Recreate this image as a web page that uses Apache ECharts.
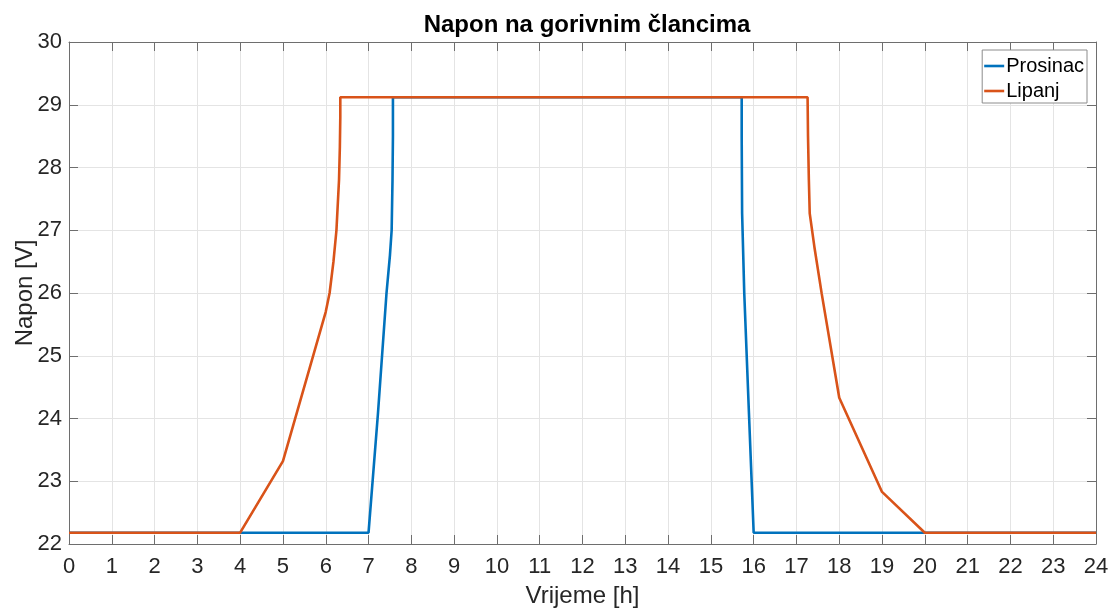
<!DOCTYPE html>
<html>
<head>
<meta charset="utf-8">
<title>Napon na gorivnim člancima</title>
<script src="https://cdn.jsdelivr.net/npm/echarts@6/dist/echarts.min.js"></script>
<style>
  html, body { margin: 0; padding: 0; background: #ffffff; }
  #chart { width: 1111px; height: 610px; }
</style>
</head>
<body>
<div id="chart"></div>
<script>
// Fuel cell voltage over the day, two months
const seriesNames = ['Prosinac', 'Lipanj'];

// Prosinac (December)
const prosinacHours = [0, 7, 7.22, 7.42, 7.50, 7.54, 7.56, 7.57, 7.57, 15.72, 15.72, 15.73, 15.78, 15.89, 16, 24];
const prosinacVolts = [22.18, 22.18, 24.08, 26.0, 26.6, 27.0, 27.8, 28.5, 29.12, 29.12, 28.5, 27.27, 26.0, 24.08, 22.18, 22.18];

// Lipanj (June)
const lipanjHours = [0, 4, 5, 6, 6.09, 6.18, 6.25, 6.31, 6.33, 6.34, 6.34, 17.26, 17.27, 17.29, 17.31, 17.42, 17.59, 18, 19, 20, 24];
const lipanjVolts = [22.18, 22.18, 23.32, 25.70, 26.0, 26.5, 27.0, 27.8, 28.33, 28.8, 29.12, 29.12, 28.5, 27.8, 27.27, 26.73, 25.99, 24.33, 22.83, 22.18, 22.18];

const xTicks = { min: 0, max: 24, step: 1 };
const yTicks = { min: 22, max: 30, step: 1 };

const titleText = 'Napon na gorivnim člancima';
const xName = 'Vrijeme [h]';
const yName = 'Napon [V]';

function pairs(xs, ys) {
  return xs.map((x, i) => [x, ys[i]]);
}

const FONT = '"Liberation Sans", Arial, Helvetica, sans-serif';
const AXIS_COLOR = '#6e6e6e';
const TEXT_COLOR = '#262626';

const chart = echarts.init(document.getElementById('chart'), null, { renderer: 'canvas' });

const frameAxis = (extra) => Object.assign({
  type: 'value',
  axisLine: { show: true, onZero: false, lineStyle: { color: AXIS_COLOR, width: 1 } },
  axisTick: { show: true, inside: true, length: 9, lineStyle: { color: AXIS_COLOR, width: 1 } },
  axisLabel: { show: false },
  splitLine: { show: false }
}, extra);

chart.setOption({
  animation: false,
  backgroundColor: '#ffffff',
  textStyle: { fontFamily: FONT },
  title: {
    text: titleText,
    left: 582,
    textAlign: 'center',
    top: 8,
    textStyle: { fontFamily: FONT, fontSize: 24, fontWeight: 'bold', color: '#000000' }
  },
  grid: { left: 69, right: 15, top: 42, bottom: 66, containLabel: false, outerBoundsMode: 'none' },
  legend: {
    data: seriesNames,
    orient: 'vertical',
    right: 24,
    top: 50,
    itemWidth: 20,
    itemHeight: 20,
    itemGap: 5,
    padding: [6, 3, 2, 2],
    borderColor: '#8c8c8c',
    borderWidth: 1,
    backgroundColor: '#ffffff',
    icon: 'path://M0,8.7 L20,8.7 L20,11.3 L0,11.3 Z',
    textStyle: { fontFamily: FONT, fontSize: 20, color: '#000000', padding: [0, 0, 0, -3] }
  },
  xAxis: [
    {
      type: 'value',
      min: xTicks.min, max: xTicks.max, interval: xTicks.step,
      name: xName,
      nameLocation: 'middle',
      nameGap: 40,
      nameMoveOverlap: false,
      nameTextStyle: { fontFamily: FONT, fontSize: 24, color: TEXT_COLOR },
      axisLine: { show: true, onZero: false, lineStyle: { color: AXIS_COLOR, width: 1 } },
      axisTick: { show: true, inside: true, length: 9, lineStyle: { color: AXIS_COLOR, width: 1 } },
      axisLabel: { fontFamily: FONT, fontSize: 22, color: TEXT_COLOR, margin: 12 },
      splitLine: { show: true, lineStyle: { color: '#e4e4e4', width: 1 } }
    },
    frameAxis({ position: 'top', min: xTicks.min, max: xTicks.max, interval: xTicks.step })
  ],
  yAxis: [
    {
      type: 'value',
      min: yTicks.min, max: yTicks.max, interval: yTicks.step,
      name: yName,
      nameLocation: 'middle',
      nameGap: 32,
      nameRotate: 90,
      nameMoveOverlap: false,
      nameTextStyle: { fontFamily: FONT, fontSize: 24, color: TEXT_COLOR },
      axisLine: { show: true, onZero: false, lineStyle: { color: AXIS_COLOR, width: 1 } },
      axisTick: { show: true, inside: true, length: 9, lineStyle: { color: AXIS_COLOR, width: 1 } },
      axisLabel: { fontFamily: FONT, fontSize: 22, color: TEXT_COLOR, margin: 7 },
      splitLine: { show: true, lineStyle: { color: '#e4e4e4', width: 1 } }
    },
    frameAxis({ position: 'right', min: yTicks.min, max: yTicks.max, interval: yTicks.step })
  ],
  series: [
    {
      name: seriesNames[0],
      type: 'line',
      data: pairs(prosinacHours, prosinacVolts),
      showSymbol: false,
      symbol: 'none',
      color: '#0072BD',
      lineStyle: { color: '#0072BD', width: 2.6 },
      z: 2
    },
    {
      name: seriesNames[1],
      type: 'line',
      data: pairs(lipanjHours, lipanjVolts),
      showSymbol: false,
      symbol: 'none',
      color: '#D95319',
      lineStyle: { color: '#D95319', width: 2.6 },
      z: 3
    }
  ]
});
</script>
</body>
</html>
